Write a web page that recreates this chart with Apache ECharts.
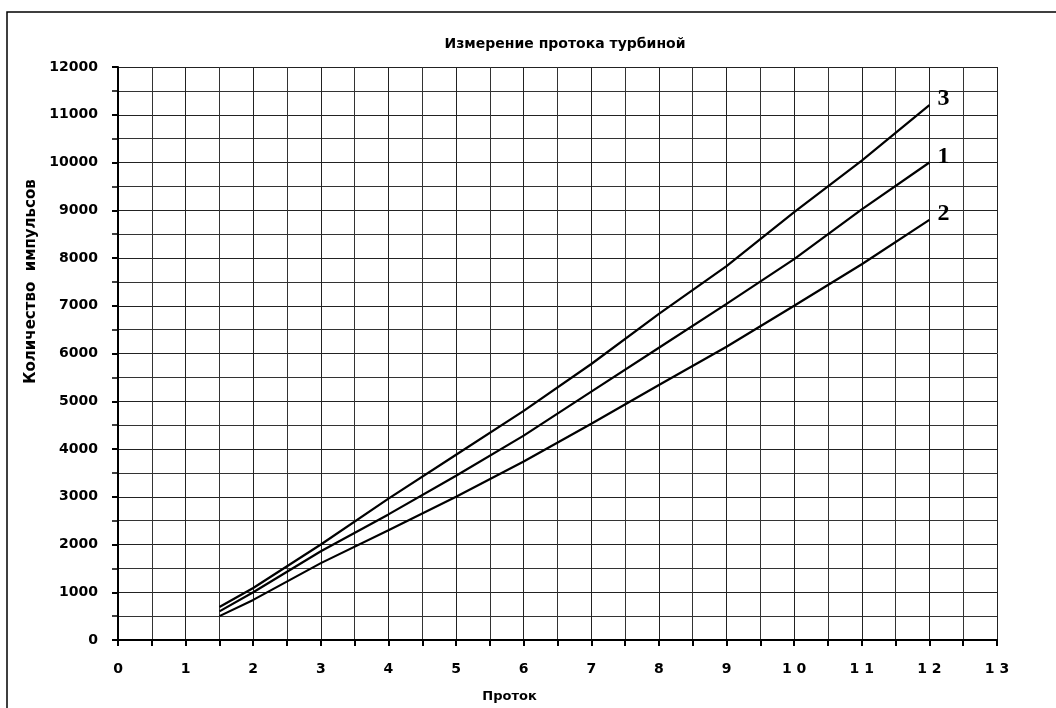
<!DOCTYPE html>
<html>
<head>
<meta charset="utf-8">
<script src="https://cdn.jsdelivr.net/npm/echarts@6/dist/echarts.min.js"></script>
<style>
  html, body { margin: 0; padding: 0; background: #fff; }
  #chart { width: 1056px; height: 708px; }
</style>
</head>
<body>
<div id="chart"></div>
<script>
var flow = [1.5, 2, 3, 4, 5, 6, 7, 8, 9, 10, 11, 12];
var line1 = [600, 1000, 1860, 2630, 3440, 4280, 5200, 6120, 7040, 7975, 9020, 10000];
var line2 = [500, 840, 1610, 2300, 3000, 3740, 4530, 5340, 6140, 7000, 7870, 8800];
var line3 = [690, 1090, 2000, 2960, 3880, 4800, 5780, 6830, 7830, 8960, 10040, 11200];

function pairs(ys) {
	return flow.map(function (x, i) { return [x, ys[i]]; });
}

var font = '"DejaVu Sans", Arial, sans-serif';
var chart = echarts.init(document.getElementById('chart'));

function curve(name, ys) {
	return {
		name: name,
		type: 'line',
		data: pairs(ys),
		showSymbol: false,
		lineStyle: { color: '#000', width: 2.2 },
		endLabel: {
			show: true,
			formatter: name,
			color: '#000',
			fontFamily: '"Times New Roman", "Liberation Serif", serif',
			fontWeight: 'bold',
			fontSize: 24,
			offset: [0, -6]
		}
	};
}

var option = {
	animation: false,
	title: {
		text: 'Измерение протока турбиной',
		left: 560,
		top: 32,
		textAlign: 'center',
		textStyle: { fontFamily: font, fontWeight: 'bold', fontSize: 14, color: '#000' }
	},
	graphic: [{
		type: 'rect',
		shape: { x: 7, y: 12, width: 1060, height: 710 },
		style: { fill: 'none', stroke: '#000', lineWidth: 1.5 },
		silent: true
	}],
	grid: { left: 118, right: 59, top: 67, bottom: 66 },
	xAxis: [{
		type: 'value',
		min: 0, max: 13, interval: 1,
		name: 'Проток',
		nameLocation: 'middle',
		nameGap: 50,
		nameTextStyle: {
			fontFamily: font, fontWeight: 'bold', fontSize: 13, color: '#000',
			padding: [0, 96, 0, 0]
		},
		axisLine: { lineStyle: { color: '#000', width: 2 } },
		axisTick: { show: true, length: 6, lineStyle: { color: '#000', width: 2 } },
		minorTick: { show: true, splitNumber: 2, length: 6, lineStyle: { color: '#000', width: 2 } },
		axisLabel: {
			margin: 22,
			fontFamily: font, fontWeight: 'bold', fontSize: 14, color: '#000',
			formatter: function (v) { return String(v).split('').join(' '); }
		},
		splitLine: { show: true, lineStyle: { color: '#222', width: 1 } },
		minorSplitLine: { show: true, lineStyle: { color: '#333', width: 1 } }
	}],
	yAxis: [{
		type: 'value',
		min: 0, max: 12000, interval: 1000,
		name: 'Количество  импульсов',
		nameLocation: 'middle',
		nameGap: 71,
		nameTextStyle: {
			fontFamily: font, fontWeight: 'bold', fontSize: 15, color: '#000',
			padding: [0, 0, 0, 144]
		},
		axisLine: { show: true, lineStyle: { color: '#000', width: 2 } },
		axisTick: { show: true, length: 6, lineStyle: { color: '#000', width: 2 } },
		minorTick: { show: true, splitNumber: 2, length: 6, lineStyle: { color: '#000', width: 1.5 } },
		axisLabel: {
			margin: 20, fontFamily: font, fontWeight: 'bold', fontSize: 14, color: '#000',
			formatter: function (v) { return String(v); }
		},
		splitLine: { show: true, lineStyle: { color: '#222', width: 1 } },
		minorSplitLine: { show: true, lineStyle: { color: '#333', width: 1 } }
	}],
	series: [
		curve('1', line1),
		curve('2', line2),
		curve('3', line3)
	]
};

chart.setOption(option);
</script>
</body>
</html>
